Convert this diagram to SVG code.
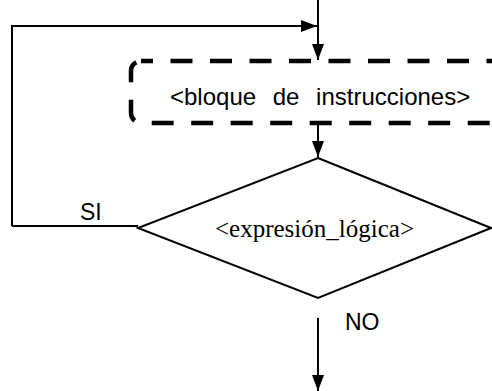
<svg xmlns="http://www.w3.org/2000/svg" width="492" height="391" viewBox="0 0 492 391">
  <style>
    .flow { fill: none; stroke: #000; stroke-width: 2; }
    .shape { fill: #fff; stroke: #000; stroke-width: 2; }
    .block { fill: #fff; stroke: #000; stroke-width: 4.5; stroke-dasharray: 22 17.5; stroke-dashoffset: 10; }
    .sans { font-family: "Liberation Sans", Arial, sans-serif; font-size: 23px; fill: #000; }
    .serif { font-family: "Liberation Serif", "Times New Roman", serif; font-size: 25px; fill: #000; }
  </style>
  <defs>
    <marker id="arrow" viewBox="0 0 16 12" refX="16" refY="6" markerWidth="16" markerHeight="12" markerUnits="userSpaceOnUse" orient="auto">
      <path d="M0,0 L16,6 L0,12 Z" fill="#000"/>
    </marker>
  </defs>

  <!-- connectors -->
  <g id="connectors">
    <path class="flow" d="M318,0 V60" marker-end="url(#arrow)"/>
    <path class="flow" d="M12,226 V26 H317" marker-end="url(#arrow)"/>
    <path class="flow" d="M138,226 H12"/>
    <path class="flow" d="M318,123 V157" marker-end="url(#arrow)"/>
    <path class="flow" d="M318,318 V391" marker-end="url(#arrow)"/>
    <text class="sans" x="80" y="220">SI</text>
    <text class="sans" x="345" y="330">NO</text>
  </g>

  <!-- instruction block -->
  <g id="block">
    <rect class="block" x="131" y="61" width="370" height="62" rx="10"/>
    <text class="sans" x="170" y="105" style="font-size:24px;word-spacing:10px">&lt;bloque de instrucciones&gt;</text>
  </g>

  <!-- decision -->
  <g id="decision">
    <polygon class="shape" points="318,158 491,228 318,298 138,228"/>
    <text class="serif" x="215" y="237">&lt;expresión_lógica&gt;</text>
  </g>
</svg>
